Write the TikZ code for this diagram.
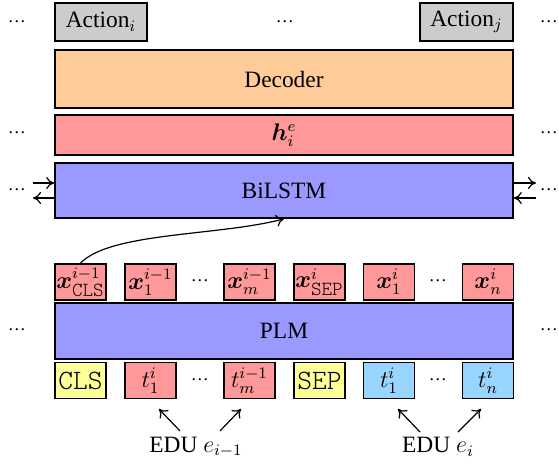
\documentclass[tikz,border=0pt]{standalone}
\usepackage{amsmath,bm}
\usepackage{fontspec}
\setmainfont{Liberation Serif}
\newfontfamily\tokfont{Latin Modern Mono Light}
\usetikzlibrary{arrows.meta}
\definecolor{actgray}{HTML}{CCCCCC}
\definecolor{decorange}{HTML}{FFCC99}
\definecolor{hred}{HTML}{FF9999}
\definecolor{lstmblue}{HTML}{9999FF}
\definecolor{clsyellow}{HTML}{FFFF99}
\definecolor{tokblue}{HTML}{99D6FF}
% light typewriter face for the special tokens
\newcommand{\cmtok}[1]{{\tokfont\fontsize{14}{16}\selectfont #1}}
\newcommand{\cmsub}[1]{\mbox{\tokfont\fontsize{10}{10}\selectfont #1}}
\newcommand{\tdots}{{\fontsize{9}{10}\selectfont …}}
\tikzset{
  box/.style={draw=black, line width=0.8pt, inner sep=0pt, anchor=center},
  wide/.style={box, minimum width=229pt},
  tok/.style={box, minimum width=25.5pt, minimum height=18pt},
  act/.style={box, fill=actgray, minimum height=19pt},
  dotsym/.style={inner sep=0pt},
  ptr/.style={-{To[length=4pt,width=6pt]}, line width=0.6pt},
}
\begin{document}
\begin{tikzpicture}[x=0.5pt,y=-0.5pt,font=\fontsize{11.7}{14}\selectfont]
\useasboundingbox (0,0) rectangle (559,468);

% output actions
\node[act, minimum width=46pt] (acti) at (101,22) {Action$_i$};
\node[act, minimum width=46.5pt] (actj) at (466.5,22) {Action$_j$};
\node[dotsym] (d1) at (17,22) {\tdots};
\node[dotsym] (d2) at (285,22) {\tdots};
\node[dotsym] (d3) at (549,22) {\tdots};

% stacked layers
\node[wide, fill=decorange, minimum height=29pt] (dec) at (284,79) {Decoder};
\node[wide, fill=hred, minimum height=20pt] (h) at (284,135) {$\bm{h}_i^{e}$};
\node[wide, fill=lstmblue, minimum height=27.5pt] (lstm) at (284,190.5) {BiLSTM};
\node[wide, fill=lstmblue, minimum height=28pt] (plm) at (284,331) {PLM};

\node[dotsym] (hl) at (17,133) {\tdots};
\node[dotsym] (hr) at (549,133) {\tdots};
\node[dotsym] (ll) at (17,190) {\tdots};
\node[dotsym] (lr) at (549,190) {\tdots};
\node[dotsym] (pl) at (17,330) {\tdots};
\node[dotsym] (pr) at (549,330) {\tdots};

% recurrent links of the BiLSTM
\coordinate (la1) at (33,183);
\coordinate (la2) at (33,198);
\coordinate (ra1) at (536,183);
\coordinate (ra2) at (536,198);
\draw[ptr] (la1) -- (la1 -| lstm.west);
\draw[ptr] (la2 -| lstm.west) -- (la2);
\draw[ptr] (ra1 -| lstm.east) -- (ra1);
\draw[ptr] (ra2) -- (ra2 -| lstm.east);

% PLM outputs
\node[tok, fill=hred] (xcls) at (80.5,282) {$\bm{x}^{i-1}_{\cmsub{CLS}}$};
\node[tok, fill=hred] (x1p) at (150.5,282) {$\bm{x}^{i-1}_{1}$};
\node[dotsym] (xd1) at (200,281) {\tdots};
\node[tok, fill=hred] (xmp) at (249.5,282) {$\bm{x}^{i-1}_{m}$};
\node[tok, fill=hred] (xsep) at (319.5,282) {$\bm{x}^{i}_{\cmsub{SEP}}$};
\node[tok, fill=hred] (x1) at (389,282) {$\bm{x}^{i}_{1}$};
\node[dotsym] (xd2) at (438,281) {\tdots};
\node[tok, fill=hred] (xn) at (488,282) {$\bm{x}^{i}_{n}$};

% PLM inputs
\node[tok, fill=clsyellow] (tcls) at (80.5,380.5) {\cmtok{CLS}};
\node[tok, fill=hred] (t1p) at (150.5,380.5) {$t^{i}_{1}$};
\node[dotsym] (td1) at (200,380) {\tdots};
\node[tok, fill=hred] (tmp) at (249.5,380.5) {$t^{i-1}_{m}$};
\node[tok, fill=clsyellow] (tsep) at (319.5,380.5) {\cmtok{SEP}};
\node[tok, fill=tokblue] (t1) at (389,380.5) {$t^{i}_{1}$};
\node[dotsym] (td2) at (438,380) {\tdots};
\node[tok, fill=tokblue] (tn) at (488,380.5) {$t^{i}_{n}$};

% CLS vector fed to the BiLSTM
\draw[ptr] (xcls.north) .. controls (110,232) and (220,236) .. (lstm.south);

% EDU labels
\node[inner sep=1pt] (eprev) at (196,447) {EDU $e_{i-1}$};
\node[inner sep=1pt] (ecur) at (438,447) {EDU $e_i$};
\coordinate (ep1) at (180,431);
\coordinate (ep2) at (220,431);
\coordinate (ec1) at (420,432);
\coordinate (ec2) at (458,432);
\coordinate (tp1) at (159,409);
\coordinate (tp2) at (241,409);
\coordinate (tc1) at (398,409);
\coordinate (tc2) at (481,409);
\draw[ptr] (ep1) -- (tp1);
\draw[ptr] (ep2) -- (tp2);
\draw[ptr] (ec1) -- (tc1);
\draw[ptr] (ec2) -- (tc2);
\end{tikzpicture}
\end{document}
